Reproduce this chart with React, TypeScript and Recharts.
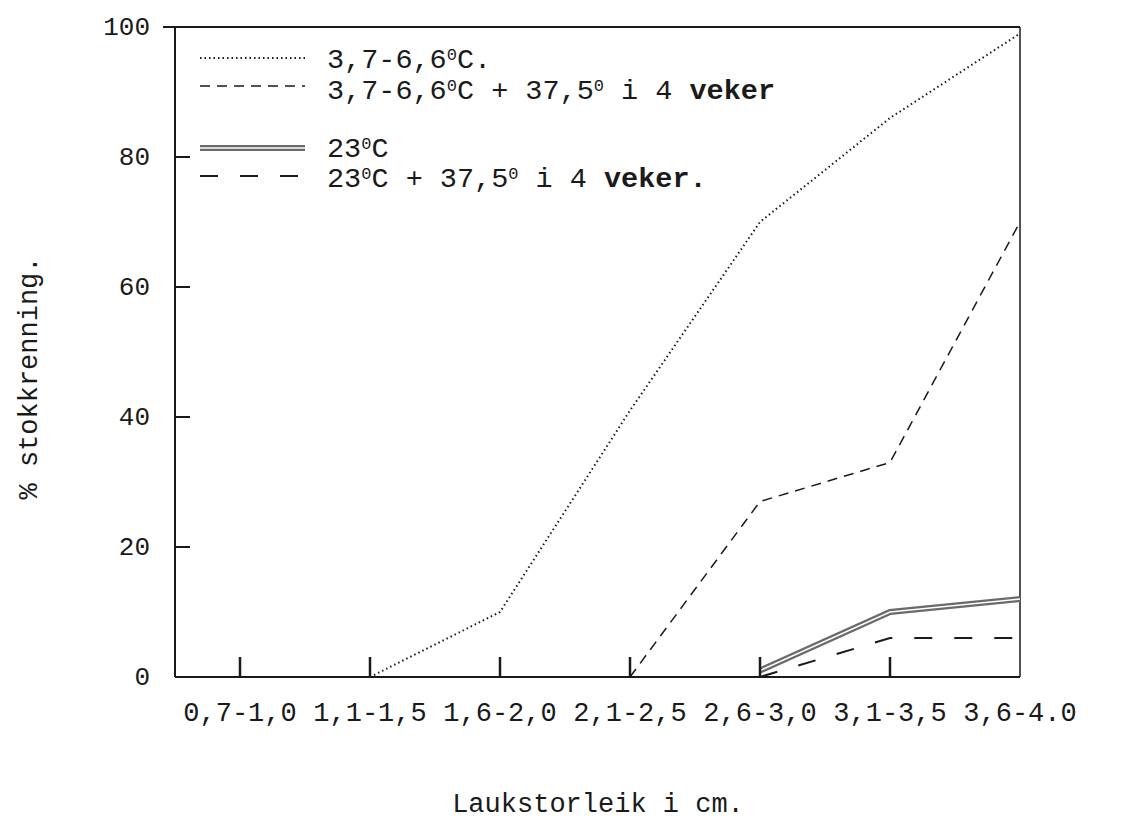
import { LineChart, Line, XAxis, YAxis, Legend, ReferenceLine } from "recharts";

const sizeClasses = ["0,7-1,0", "1,1-1,5", "1,6-2,0", "2,1-2,5", "2,6-3,0", "3,1-3,5", "3,6-4.0"];
const cold = [null, 0, 10, 41, 70, 86, 99];
const coldHeat = [null, null, null, 0, 27, 33, 70];
const warm = [null, null, null, null, 1, 10, 12];
const warmHeat = [null, null, null, null, 0, 6, 6];
const yTicks = [0, 20, 40, 60, 80, 100];

const data = sizeClasses.map((name, i) => ({
  x: i,
  name,
  cold: cold[i],
  coldHeat: coldHeat[i],
  warm: warm[i],
  warmHeat: warmHeat[i],
}));

const FONT = "'Liberation Mono', 'DejaVu Sans Mono', monospace";
const INK = "#1a1a1a";

function XTick({ x, y, payload }: any) {
  const i = payload.value;
  return (
    <g>
      {i < 6 && <line x1={x} x2={x} y1={y} y2={y - 20} stroke={INK} strokeWidth={2.5} />}
      <text x={x} y={y + 44} textAnchor="middle" fontFamily={FONT} fontSize={27} fill={INK}>
        {sizeClasses[i]}
      </text>
    </g>
  );
}

function YTick({ x, y, payload }: any) {
  return (
    <g>
      <line x1={x} x2={payload.value === 100 ? x - 12 : x + 15} y1={y} y2={y} stroke={INK} strokeWidth={2} />
      <text x={x - 25} y={y + 8} textAnchor="end" fontFamily={FONT} fontSize={26} fill={INK}>
        {payload.value}
      </text>
    </g>
  );
}

function Deg() {
  return (
    <tspan dy={-8} fontSize={17}>
      0
    </tspan>
  );
}

function LegendBox() {
  const t = { fontFamily: FONT, fontSize: 28.5, fill: INK } as const;
  return (
    <svg width={680} height={170} style={{ overflow: "visible" }}>
      <line x1={5} x2={112} y1={18} y2={18} stroke={INK} strokeWidth={2} strokeDasharray="1.5 3" />
      <text x={132} y={28} {...t}>
        3,7-6,6<Deg /><tspan dy={8}>C.</tspan>
      </text>
      <line x1={5} x2={110} y1={46} y2={46} stroke={INK} strokeWidth={1.5} strokeDasharray="10 7" />
      <text x={132} y={59} {...t}>
        3,7-6,6<Deg /><tspan dy={8}>C + 37,5</tspan><Deg />
        <tspan dy={8}> i 4 </tspan>
        <tspan fontWeight="bold">veker</tspan>
      </text>
      <line x1={5} x2={110} y1={108} y2={108} stroke="#6a6a6a" strokeWidth={6} />
      <line x1={5} x2={110} y1={108} y2={108} stroke="#fff" strokeWidth={1.5} />
      <text x={132} y={117} {...t}>
        23<Deg /><tspan dy={8}>C</tspan>
      </text>
      <line x1={5} x2={110} y1={136} y2={136} stroke={INK} strokeWidth={2} strokeDasharray="18 22" />
      <text x={132} y={147} {...t}>
        23<Deg /><tspan dy={8}>C + 37,5</tspan><Deg />
        <tspan dy={8}> i 4 </tspan>
        <tspan fontWeight="bold">veker.</tspan>
      </text>
    </svg>
  );
}

export default function App() {
  return (
    <div style={{ position: "relative", width: 1112, height: 807, background: "#fff" }}>
      <LineChart
        width={1112}
        height={807}
        data={data}
        margin={{ top: 19, right: 100, left: 0, bottom: 0 }}
      >
        <XAxis
          dataKey="x"
          type="number"
          domain={[-0.5, 6]}
          ticks={[0, 1, 2, 3, 4, 5, 6]}
          height={138}
          tickSize={0}
          tickMargin={0}
          tickLine={false}
          tick={<XTick />}
          stroke={INK}
          strokeWidth={2}
          interval={0}
        />
        <YAxis
          type="number"
          domain={[0, 100]}
          ticks={yTicks}
          width={167}
          tickSize={0}
          tickMargin={0}
          tickLine={false}
          tick={<YTick />}
          stroke={INK}
          strokeWidth={2}
        />
        <ReferenceLine y={100} stroke={INK} strokeWidth={2} />
        <ReferenceLine x={6} stroke={INK} strokeWidth={1.5} />
        <Legend
          content={() => <LegendBox />}
          wrapperStyle={{ position: "absolute", left: 187, top: 32, width: 0, height: 0, overflow: "visible" }}
        />
        <Line
          dataKey="cold"
          stroke={INK}
          strokeWidth={2}
          strokeDasharray="1.5 3"
          dot={false}
          isAnimationActive={false}
        />
        <Line
          dataKey="coldHeat"
          stroke={INK}
          strokeWidth={1.5}
          strokeDasharray="10 7"
          dot={false}
          isAnimationActive={false}
        />
        <Line dataKey="warm" stroke="#6a6a6a" strokeWidth={6} dot={false} isAnimationActive={false} />
        <Line
          dataKey="warm"
          stroke="#fff"
          strokeWidth={1.5}
          dot={false}
          isAnimationActive={false}
          legendType="none"
        />
        <Line
          dataKey="warmHeat"
          stroke={INK}
          strokeWidth={2}
          strokeDasharray="18 22"
          dot={false}
          isAnimationActive={false}
        />
      </LineChart>
      <div
        style={{
          position: "absolute",
          left: 22,
          top: 370,
          transform: "translate(-50%, -50%) rotate(-90deg)",
          fontFamily: FONT,
          fontSize: 27,
          color: INK,
          whiteSpace: "nowrap",
        }}
      >
        % stokkrenning.
      </div>
      <div
        style={{
          position: "absolute",
          left: 590,
          top: 797,
          transform: "translate(-50%, -50%)",
          fontFamily: FONT,
          fontSize: 27,
          color: INK,
          whiteSpace: "nowrap",
        }}
      >
        Laukstorleik i cm.
      </div>
    </div>
  );
}
